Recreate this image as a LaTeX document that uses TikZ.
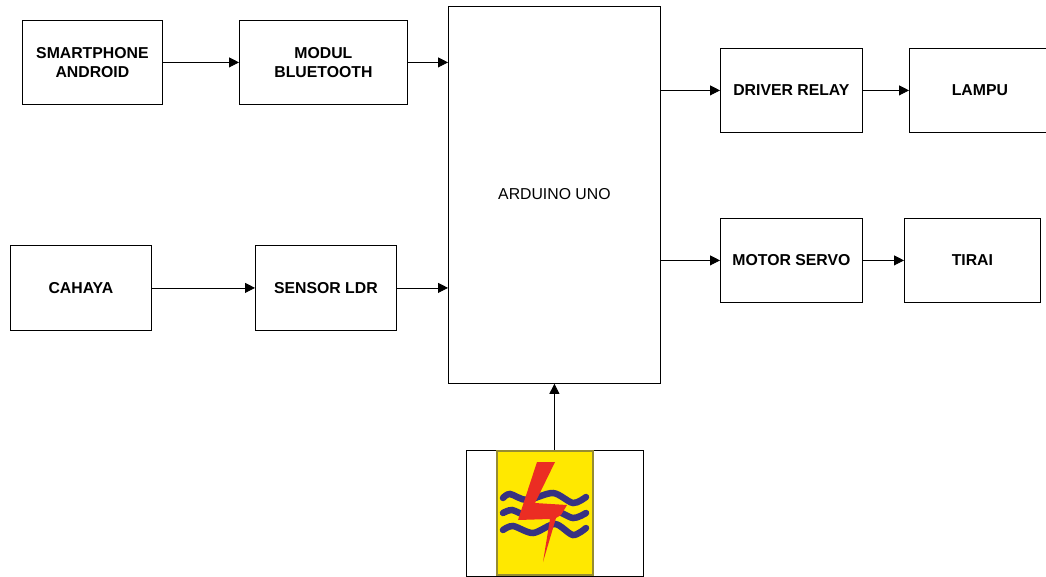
\documentclass[tikz,border=0pt]{standalone}
\usepackage{fontspec}
\setmainfont{Liberation Sans}
\usetikzlibrary{arrows.meta}
\definecolor{lgyellow}{RGB}{255,232,0}
\definecolor{lgedge}{RGB}{150,140,50}
\definecolor{lgblue}{RGB}{55,50,130}
\definecolor{lgred}{RGB}{235,45,35}
\tikzset{
 blockbox/.style={draw=black,line width=0.8pt,fill=white,inner sep=0pt,align=center,font=\bfseries\fontsize{15.8}{19}\selectfont},
 plainbox/.style={blockbox,font=\fontsize{15.8}{19}\selectfont},
 link/.style={draw=black,line width=0.8pt,-{Triangle[length=10pt,width=10pt]}},
 wave/.style={draw=lgblue,line width=6.5pt,line cap=round},
 bolt/.style={fill=lgred,draw=none}
}
\newcommand{\blk}[7][blockbox]{\node[#1,minimum width=#5pt-#3pt,minimum height=#6pt-#4pt,anchor=north west] (#2) at (#3,#4) {#7};}
\begin{document}
\begin{tikzpicture}[x=1pt,y=-1pt]
\useasboundingbox[fill=white] (0,0) rectangle (1046,576);
\blk{phone}{22}{20}{162}{104}{SMARTPHONE\\ANDROID}
\blk{bt}{239}{20}{407}{104}{MODUL\\BLUETOOTH}
\blk[plainbox]{uno}{448}{6}{660}{383}{\raisebox{1pt}{ARDUINO UNO}}
\blk{relay}{720}{48}{862}{132}{DRIVER RELAY}
\blk{lamp}{909}{48}{1050}{132}{LAMPU}
\blk{cahaya}{10}{245}{151}{330}{CAHAYA}
\blk{ldr}{255}{245}{396}{330}{SENSOR LDR}
\blk{servo}{720}{218}{862}{302}{MOTOR SERVO}
\blk{tirai}{904}{218}{1040}{302}{TIRAI}
\blk{power}{466}{450}{643}{576}{}
% logo
\fill[lgyellow,draw=lgedge,line width=1.6pt] (497,451) rectangle (593,575);
\draw[wave] plot[smooth] coordinates {(503,498) (510,494) (527,500) (553,493) (573,503) (586,497)};
\draw[wave] plot[smooth] coordinates {(503,513) (512,510) (527,515) (553,510) (573,518) (586,513)};
\draw[wave] plot[smooth] coordinates {(503,530) (513,526) (533,533) (555,524) (573,535) (586,528)};
\path[bolt] (537,462) -- (555,462) -- (535,503) -- (567,505) -- (561,515) -- (556,518) -- (543,562) -- (550,519) -- (518,520) -- cycle;
\draw[link] (phone) -- (bt);
\draw[link] (bt.east) -- (bt.east -| uno.west);
\draw[link] (cahaya) -- (ldr);
\draw[link] (ldr.east) -- (ldr.east -| uno.west);
\draw[link] (relay.west -| uno.east) -- (relay.west);
\draw[link] (servo.west -| uno.east) -- (servo.west);
\draw[link] (relay) -- (lamp);
\draw[link] (servo) -- (tirai);
\draw[link] (uno.south |- power.north) -- (uno.south);
\end{tikzpicture}
\end{document}
